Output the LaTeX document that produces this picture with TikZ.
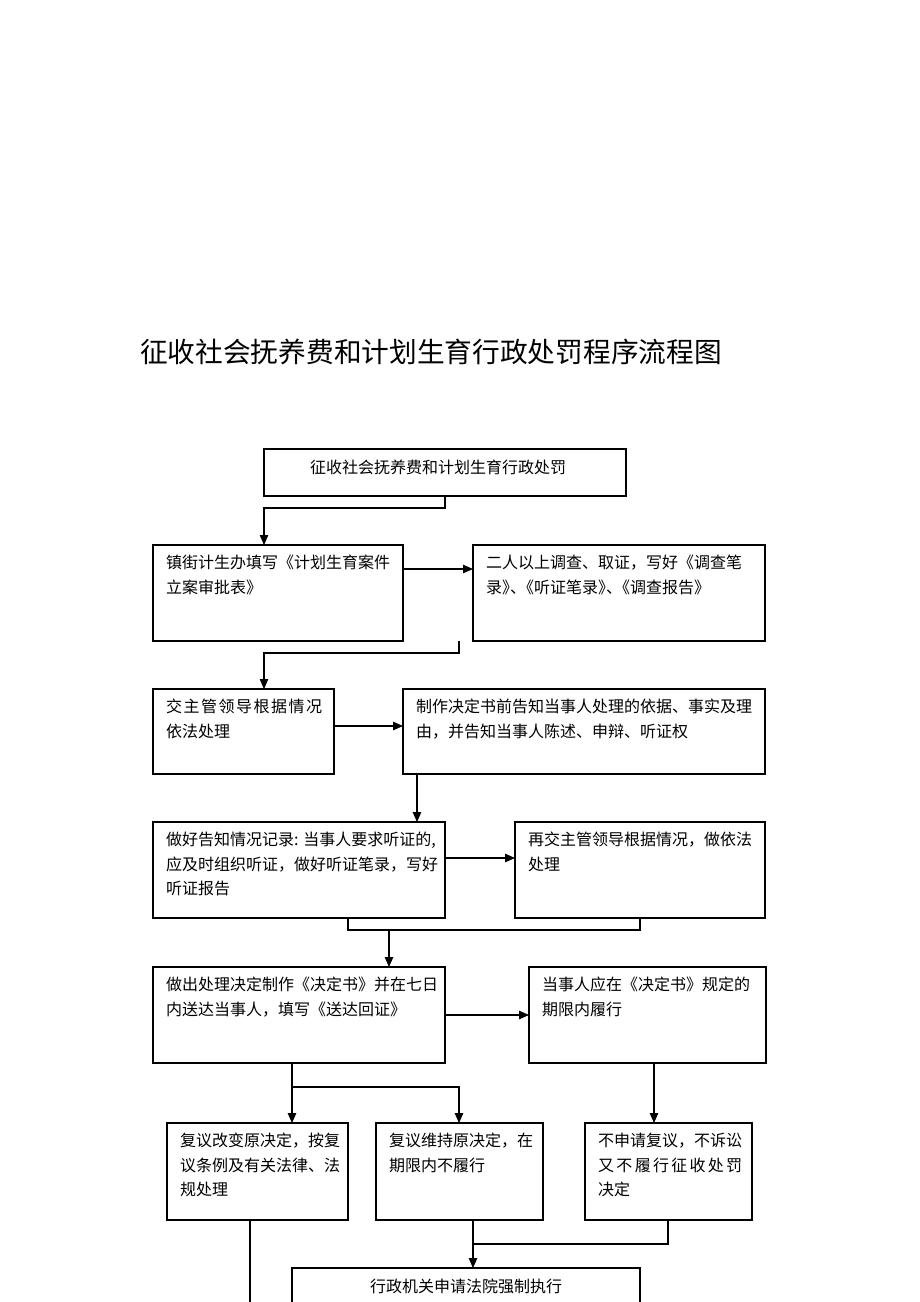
\documentclass[tikz,border=0pt]{standalone}
\usepackage{fontspec}
\newfontfamily\cjk{Noto Sans CJK SC}
\usetikzlibrary{arrows.meta}
\tikzset{
  box/.style={draw=black, line width=1.1pt, inner sep=0pt, outer sep=0pt, anchor=north west},
  txt/.style={font=\cjk\fontsize{16}{24.5}\selectfont, align=left, inner sep=0pt, anchor=north west, text=black},
  ln/.style={draw=black, line width=1.1pt},
  arr/.style={ln, -{Triangle[length=10pt,width=8.5pt]}},
}
\begin{document}
\begin{tikzpicture}[x=1pt,y=-1pt]
\useasboundingbox (0,0) rectangle (920,1302);
\clip (0,0) rectangle (920,1302);
\fill[white] (0,0) rectangle (920,1302);

\node[font=\cjk\fontsize{27.7}{32}\selectfont, inner sep=0pt] (title) at (431,352) {征收社会抚养费和计划生育行政处罚程序流程图};

% boxes
\node[box, minimum width=362pt, minimum height=47pt] (b1) at (264,449) {};
\node[box, minimum width=250pt, minimum height=96pt] (b2) at (153,545) {};
\node[box, minimum width=292pt, minimum height=96pt] (b3) at (473,545) {};
\node[box, minimum width=181pt, minimum height=85pt] (b4) at (153,689) {};
\node[box, minimum width=362pt, minimum height=85pt] (b5) at (403,689) {};
\node[box, minimum width=292pt, minimum height=96pt] (b6) at (153,822) {};
\node[box, minimum width=250pt, minimum height=96pt] (b7) at (515,822) {};
\node[box, minimum width=292pt, minimum height=96pt] (b8) at (153,967) {};
\node[box, minimum width=237pt, minimum height=96pt] (b9) at (529,967) {};
\node[box, minimum width=181pt, minimum height=97pt] (b10) at (167,1123) {};
\node[box, minimum width=167pt, minimum height=97pt] (b11) at (376,1123) {};
\node[box, minimum width=167pt, minimum height=97pt] (b12) at (585,1123) {};
\node[box, minimum width=348pt, minimum height=60pt] (b13) at (292,1268) {};

% texts
\node[txt, anchor=center] (t1) at (438,467) {征收社会抚养费和计划生育行政处罚};
\node[txt] (t2) at ([xshift=13pt,yshift=-10pt]b2.north west) {镇街计生办填写《计划生育案件\\立案审批表》};
\node[txt] (t3) at ([xshift=13pt,yshift=-10pt]b3.north west) {二人以上调查、取证，写好《调查笔\\录》\kern-.5em、\kern-.5em《听证笔录》\kern-.5em、\kern-.5em《调查报告》};
\node[txt] (t4) at ([xshift=13pt,yshift=-10pt]b4.north west) {\makebox[156pt][l]{交\hfill 主\hfill 管\hfill 领\hfill 导\hfill 根\hfill 据\hfill 情\hfill 况}\\依法处理};
\node[txt] (t5) at ([xshift=13pt,yshift=-10pt]b5.north west) {制作决定书前告知当事人处理的依据、事实及理\\由，并告知当事人陈述、申辩、听证权};
\node[txt] (t6) at ([xshift=13pt,yshift=-10pt]b6.north west) {做好告知情况记录: 当事人要求听证的,\\应及时组织听证，做好听证笔录，写好\\听证报告};
\node[txt] (t7) at ([xshift=13pt,yshift=-10pt]b7.north west) {再交主管领导根据情况，做依法\\处理};
\node[txt] (t8) at ([xshift=13pt,yshift=-10pt]b8.north west) {做出处理决定制作《决定书》并在七日\\内送达当事人，填写《送达回证》};
\node[txt] (t9) at ([xshift=13pt,yshift=-10pt]b9.north west) {当事人应在《决定书》规定的\\期限内履行};
\node[txt] (t10) at ([xshift=13pt,yshift=-10pt]b10.north west) {复议改变原决定，按复\\议条例及有关法律、法\\规处理};
\node[txt] (t11) at ([xshift=13pt,yshift=-10pt]b11.north west) {复议维持原决定，在\\期限内不履行};
\node[txt] (t12) at ([xshift=13pt,yshift=-10pt]b12.north west) {不申请复议，不诉讼\\\makebox[9em][l]{又\hfill 不\hfill 履\hfill 行\hfill 征\hfill 收\hfill 处\hfill 罚}\\决定};
\node[txt, anchor=center] (t13) at (466,1286) {行政机关申请法院强制执行};

% connectors
\coordinate (j1) at (459,641);
\coordinate (m1) at (348,930);
\coordinate (s1) at (292,1087);
\coordinate (m2) at (473,1244);
\coordinate (e10) at (250,1302);

\draw[arr] (b1.south) -- ++(0,12) -| (264,0 |- b2.north);
\draw[arr] (b2.east |- 0,569) -- (b3.west |- 0,569);
\draw[arr] (j1) -- ++(0,12) -| (264,0 |- b4.north);
\draw[arr] (b4.east |- 0,726) -- (b5.west |- 0,726);
\draw[arr] (417,0 |- b5.south) -- (417,0 |- b6.north);
\draw[arr] (b6.east |- 0,858) -- (b7.west |- 0,858);
\draw[ln] (348,0 |- b6.south) -- (m1) -- (640,930) -- (640,0 |- b7.south);
\draw[arr] (389,930) -- (389,0 |- b8.north);
\draw[arr] (b8.east |- 0,1015) -- (b9.west |- 0,1015);
\draw[arr] (292,0 |- b8.south) -- (292,0 |- b10.north);
\draw[arr] (s1) -| (459,0 |- b11.north);
\draw[arr] (654,0 |- b9.south) -- (654,0 |- b12.north);
\draw[arr] (473,0 |- b11.south) -- (473,0 |- b13.north);
\draw[ln] (668,0 |- b12.south) |- (m2);
\draw[ln] (250,0 |- b10.south) -- (e10);
\end{tikzpicture}
\end{document}
